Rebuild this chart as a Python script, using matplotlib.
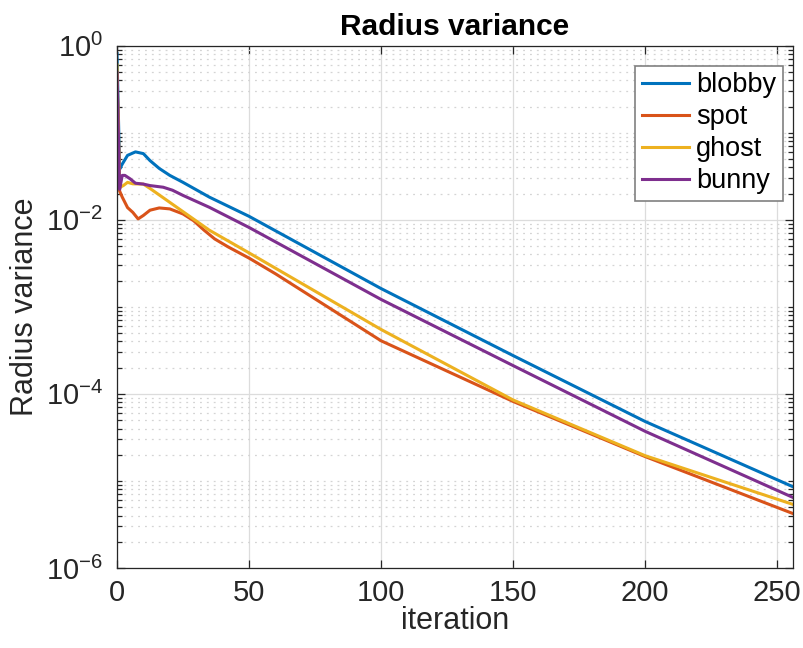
import matplotlib
matplotlib.use("Agg")
import matplotlib.pyplot as plt
import numpy as np
from matplotlib.ticker import LogLocator, FixedLocator, NullFormatter

plt.rcParams['font.family'] = ['Liberation Sans', 'DejaVu Sans']
plt.rcParams['mathtext.fontset'] = 'custom'
plt.rcParams['mathtext.rm'] = 'Liberation Sans'
plt.rcParams['mathtext.it'] = 'Liberation Sans:italic'
plt.rcParams['mathtext.bf'] = 'Liberation Sans:bold'

blobby_x = [0, 1, 2, 4, 7, 10, 12.5, 16, 20, 25, 35, 50, 100, 150, 200, 256]
blobby_log = [-0.09, -1.42, -1.36, -1.26, -1.22, -1.24, -1.32, -1.41, -1.49, -1.57,
              -1.74, -1.96, -2.79, -3.56, -4.317, -5.067]

spot_x = [0, 1, 2, 4, 6, 8, 10, 12.5, 16, 20, 25, 29, 33, 37, 42, 50, 60, 100, 150, 200, 256]
spot_log = [-0.35, -1.67, -1.74, -1.86, -1.915, -1.99, -1.95, -1.89, -1.864, -1.875,
            -1.933, -2.01, -2.12, -2.22, -2.31, -2.44, -2.62, -3.39, -4.087, -4.72, -5.375]

ghost_x = [0, 1, 2.4, 4, 6, 10, 12.5, 35, 50, 100, 150, 200, 256]
ghost_log = [-0.22, -1.63, -1.607, -1.57, -1.587, -1.59, -1.64, -2.12, -2.38,
             -3.26, -4.07, -4.71, -5.27]

bunny_x = [0, 1, 2, 3, 5, 7, 10, 12.5, 17.5, 21, 25, 35, 50, 100, 150, 200, 256]
bunny_log = [-0.31, -1.65, -1.49, -1.49, -1.53, -1.58, -1.59, -1.607, -1.626, -1.66,
             -1.72, -1.857, -2.088, -2.915, -3.675, -4.43, -5.19]

names = ['blobby', 'spot', 'ghost', 'bunny']
colors = ['#0072BD', '#D95319', '#EDB120', '#7E2F8E']
xs = [blobby_x, spot_x, ghost_x, bunny_x]
ys = [blobby_log, spot_log, ghost_log, bunny_log]

x_ticks = [0, 50, 100, 150, 200, 250]
y_ticks = [1e-6, 1e-4, 1e-2, 1e0]

fig = plt.figure(figsize=(8.04, 6.48), dpi=100)
ax = fig.add_axes([0.1455, 0.1235, 0.8408, 0.806])

for x, y, n, c in zip(xs, ys, names, colors):
    ax.plot(x, 10 ** np.array(y), color=c, lw=2.2, label=n, solid_joinstyle='round')

ax.set_yscale('log')
ax.set_xlim(0, 256)
ax.set_ylim(1e-6, 1e0)
ax.set_xticks(x_ticks)
ax.yaxis.set_major_locator(FixedLocator(y_ticks))
ax.yaxis.set_minor_locator(LogLocator(base=10, subs=np.arange(1, 10), numticks=100))
ax.yaxis.set_minor_formatter(NullFormatter())

ax.grid(True, which='major', axis='both', color='#dcdcdc', lw=0.9, ls='-')
ax.grid(True, which='minor', axis='y', color='#d4d4d4', lw=0.9, ls=(0, (1.5, 4)))
ax.set_axisbelow(True)

dark = '#262626'
for s in ax.spines.values():
    s.set_color(dark)
    s.set_linewidth(0.9)
ax.tick_params(which='both', direction='in', top=True, right=True, colors=dark, width=0.9)
ax.tick_params(which='major', length=6, labelsize=21, pad=8)
ax.tick_params(axis='y', which='major', pad=10)
ax.tick_params(which='minor', length=3.5)

ax.set_xlabel('iteration', fontsize=22, color=dark, labelpad=-1)
ax.set_ylabel('Radius variance', fontsize=22, color=dark, labelpad=4)
ax.set_title('Radius variance', fontsize=21.5, fontweight='bold', pad=8)

leg = ax.legend(loc='upper right', bbox_to_anchor=(0.985, 0.962), fontsize=19.5,
                frameon=True, fancybox=False, edgecolor='#808080', framealpha=1,
                handlelength=1.75, handletextpad=0.25, labelspacing=0.22, borderpad=0.25,
                borderaxespad=0)
leg.get_frame().set_linewidth(1.2)

fig.savefig('out.png', dpi=100)
